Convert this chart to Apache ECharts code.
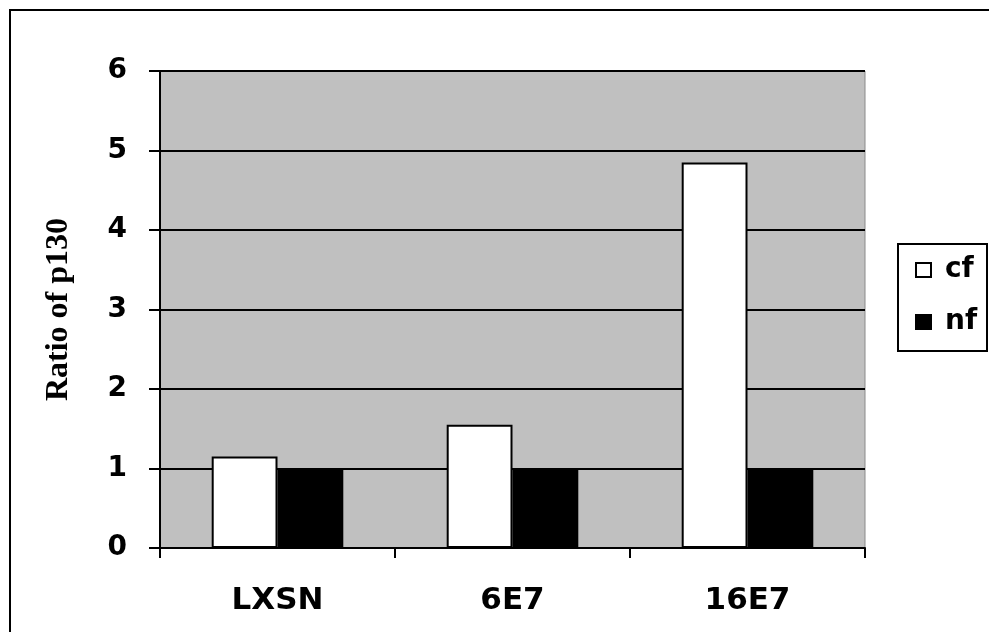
<!DOCTYPE html>
<html><head><meta charset="utf-8">
<script src="https://cdn.jsdelivr.net/npm/echarts@6/dist/echarts.min.js"></script>
<style>html,body{margin:0;padding:0;background:#fff}#c{width:989px;height:632px}</style>
</head><body><div id="c"></div>
<script>
const categories = ['LXSN', '6E7', '16E7'];
const cfValues = [1.15, 1.55, 4.85];
const nfValues = [1.0, 1.0, 1.0];
const seriesNames = ['cf', 'nf'];
const yTitle = 'Ratio of p130';

const chart = echarts.init(document.getElementById('c'));
chart.setOption({
  animation: false,
  backgroundColor: '#ffffff',
  graphic: [
    {type: 'rect', shape: {x: 10, y: 10, width: 1000, height: 700},
     style: {fill: 'none', stroke: '#000', lineWidth: 2}, z: -1},
    {type: 'rect', shape: {x: 898, y: 244, width: 89, height: 107},
     style: {fill: '#fff', stroke: '#000', lineWidth: 2}, z: 0}
  ],
  grid: {left: 160, right: 124, top: 71, bottom: 84, show: true,
    backgroundColor: '#c0c0c0', borderColor: '#8a8a8a', borderWidth: 1},
  legend: {
    orient: 'vertical', left: 915, top: 256, padding: 0,
    itemGap: 24, itemWidth: 15, itemHeight: 14, icon: 'rect', z: 5,
    textStyle: {fontFamily: 'DejaVu Sans', fontWeight: 'bold', fontSize: 28, lineHeight: 28,
      color: '#000', padding: [0, 0, 0, 9]},
    data: seriesNames
  },
  xAxis: {
    type: 'category', data: categories,
    axisLine: {lineStyle: {color: '#000', width: 2}},
    axisTick: {show: true, alignWithLabel: false, length: 10, lineStyle: {color: '#000', width: 2}},
    axisLabel: {fontFamily: 'DejaVu Sans', fontWeight: 'bold', fontSize: 31, color: '#000', margin: 37}
  },
  yAxis: {
    type: 'value', min: 0, max: 6, interval: 1,
    name: yTitle, nameLocation: 'middle', nameGap: 85,
    nameTextStyle: {fontFamily: 'Liberation Serif, Times New Roman', fontWeight: 'bold', fontSize: 32, color: '#000'},
    axisLine: {show: true, lineStyle: {color: '#000', width: 2}},
    axisTick: {show: true, length: 11, lineStyle: {color: '#000', width: 2}},
    splitLine: {lineStyle: {color: '#000', width: 2}},
    axisLabel: {fontFamily: 'DejaVu Sans', fontWeight: 'bold', fontSize: 28, color: '#000', margin: 33}
  },
  series: [
    {name: seriesNames[0], type: 'bar', data: cfValues, barWidth: '28%', barGap: '0%',
     itemStyle: {color: '#ffffff', borderColor: '#000', borderWidth: 2}},
    {name: seriesNames[1], type: 'bar', data: nfValues, barWidth: '28%',
     itemStyle: {color: '#000000', borderColor: '#000', borderWidth: 2}}
  ]
});
</script></body></html>
